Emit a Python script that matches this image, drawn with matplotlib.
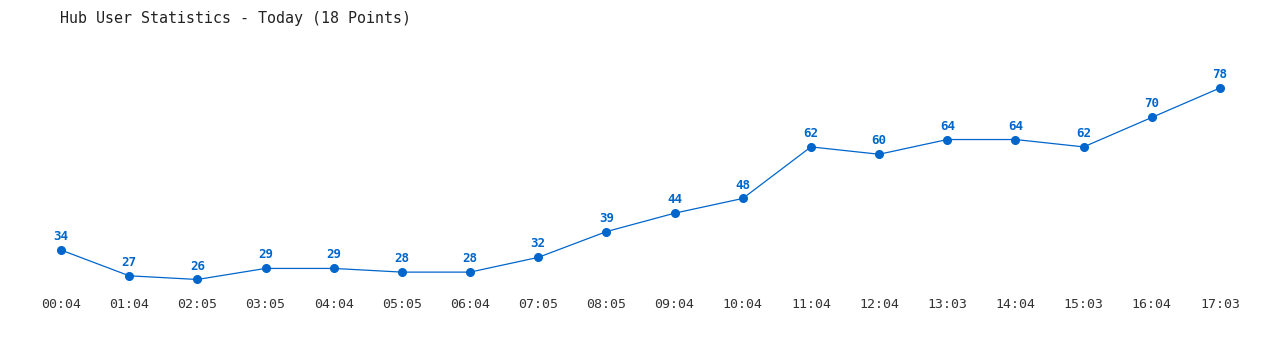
import matplotlib
matplotlib.use("Agg")
from matplotlib import pyplot as plt

TITLE = "Hub User Statistics - Today (18 Points)"
TIMES = ["00:04", "01:04", "02:05", "03:05", "04:04", "05:05", "06:04", "07:05", "08:05",
         "09:04", "10:04", "11:04", "12:04", "13:03", "14:04", "15:03", "16:04", "17:03"]
USERS = [34, 27, 26, 29, 29, 28, 28, 32, 39, 44, 48, 62, 60, 64, 64, 62, 70, 78]

BLUE = "#0066cc"
FONT = "DejaVu Sans Mono"

fig = plt.figure(figsize=(12.8, 3.5), dpi=100)
ax = fig.add_axes([61 / 1280, (350 - 292) / 350, (1220 - 61) / 1280, (292 - 80.6) / 350])

x = list(range(len(USERS)))
ax.plot(x, USERS, color=BLUE, linewidth=0.9, marker="o", markersize=5.5, clip_on=False)
for xi, v in zip(x, USERS):
    ax.annotate(str(v), (xi, v), xytext=(0, 5), textcoords="offset points",
                ha="center", va="bottom", color=BLUE, fontsize=9,
                fontweight="bold", family=FONT)

ax.set_xlim(0, len(USERS) - 1)
ax.set_ylim(22.6, 80)
ax.set_xticks(x)
ax.set_xticklabels(TIMES, family=FONT, fontsize=9.5, color="#333333")
ax.tick_params(axis="x", length=0, pad=4)
ax.set_yticks([])
for s in ax.spines.values():
    s.set_visible(False)

fig.text(60 / 1280, 1 - 18 / 350, TITLE, family=FONT, fontsize=10.8,
         color="#222222", ha="left", va="center")

fig.savefig("out.png", dpi=100)
